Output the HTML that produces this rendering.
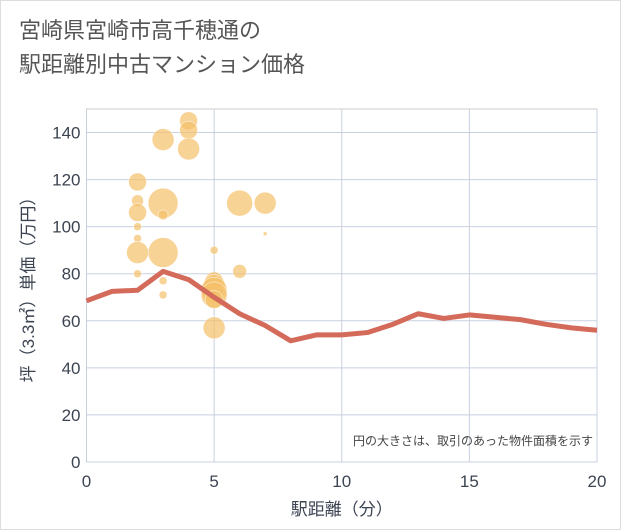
<!DOCTYPE html>
<html><head><meta charset="utf-8"><style>
body{margin:0;background:#fff;font-family:"Liberation Sans","Noto Sans CJK JP",sans-serif;}
#wrap{position:relative;width:619px;height:528px;border:1px solid #ddd;background:#fff;}
#title{position:absolute;left:18px;top:13px;font-size:22px;line-height:34px;color:#555;}
</style></head><body>
<div id="wrap">
<div id="title">宮崎県宮崎市高千穂通の<br>駅距離別中古マンション価格</div>
<svg id="chart" width="621" height="530" style="position:absolute;left:0;top:0"></svg>
</div>
<script>
const xTicks=[0,5,10,15,20];
const yTicks=[0,20,40,60,80,100,120,140];
const lineX=[0,1,2,3,4,5,6,7,8,9,10,11,12,13,14,15,16,17,18,19,20];
const lineY=[68.5,72.5,73,81,77.5,70,63,58,51.5,54,54,55,58.5,63,61,62.5,61.5,60.5,58.5,57,56];
const bubX=[2,2,2,2,2,2,2,3,3,3,3,3,3,4,4,4,5,5,5,5,5,5,5,6,6,7,7];
const bubY=[119,111,106,100,95,89,80,137,110,105,89,77,71,145,141,133,90,77,75,73,71,69,57,110,81,110,97];
const bubR=[9,6,9,4,4,11,4,11,15,5,15,4,4,9,9,11,4,9,11,13,13,9,11,13,7,11,2];
const NS="http://www.w3.org/2000/svg";
const svg=document.getElementById('chart');
const L=85.5,R=596,T=108,B=461;
const sx=v=>L+(v-0)/20*(R-L);
const sy=v=>B-v/150*(B-T);
function el(t,a){const e=document.createElementNS(NS,t);for(const k in a)e.setAttribute(k,a[k]);svg.appendChild(e);return e;}
const bg=el('rect',{x:L,y:T,width:R-L,height:B-T,fill:'#fff',stroke:'#ccc'});


yTicks.forEach(v=>{
 const g=el('line',{x1:L,x2:R,y1:sy(v),y2:sy(v),stroke:'#c8d0e0','stroke-width':1});
 
 
 const t=el('text',{x:L-6,y:sy(v)+6,'text-anchor':'end','font-size':17,fill:'#3c4452'});
 t.textContent=v;
 
 
});
xTicks.forEach(v=>{
 const g=el('line',{x1:sx(v),x2:sx(v),y1:T,y2:B,stroke:'#c8d0e0','stroke-width':1});
 
 
 const t=el('text',{x:sx(v),y:B+25,'text-anchor':'middle','font-size':17,fill:'#3c4452'});
 t.textContent=v;
 
 
});
bubX.forEach((x,i)=>{
 const c=el('circle',{cx:sx(x),cy:sy(bubY[i]),r:bubR[i],fill:'#f5c06a','fill-opacity':0.7,stroke:'#fff','stroke-width':0.5});
 
 
});
const p=el('polyline',{points:lineX.map((x,i)=>sx(x)+','+sy(lineY[i])).join(' '),fill:'none',stroke:'#d46a5a','stroke-width':5,'stroke-linejoin':'round'});


const n=el('text',{x:R-4,y:B-17,'text-anchor':'end','font-size':12,fill:'#444'});
n.textContent='円の大きさは、取引のあった物件面積を示す';


const xt=el('text',{x:(L+R)/2,y:514,'text-anchor':'middle','font-size':17,fill:'#3c4452'});
xt.textContent='駅距離（分）';


const yt=el('text',{x:0,y:0,'text-anchor':'middle','font-size':17,fill:'#3c4452',transform:'translate(33,'+((T+B)/2)+') rotate(-90)'});
yt.textContent='坪（3.3㎡）単価（万円）';


</script>
</body></html>
